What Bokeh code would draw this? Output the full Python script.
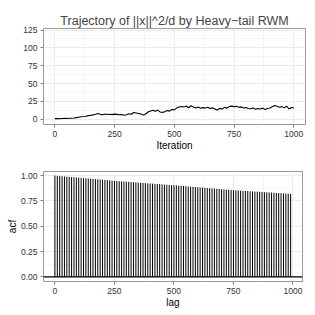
from bokeh.plotting import figure
from bokeh.layouts import column
from bokeh.models import FixedTicker, Range1d, Span
from bokeh.embed import file_html
from bokeh.resources import INLINE

# Trajectory of ||x||^2/d (sampled every 10 iterations)
iterations = list(range(0, 1001, 10))
traj = [1.0, 1.1, 0.9, 1.2, 1.3, 1.2, 1.5, 1.6, 1.8, 2.4,
        3.0, 3.6, 3.9, 4.3, 5.2, 5.6, 6.3, 7.1, 8.2, 7.0,
        6.4, 7.5, 6.8, 7.2, 6.6, 7.3, 7.0, 6.4, 6.9, 5.7,
        6.5, 7.8, 7.1, 9.6, 9.0, 8.2, 7.4, 6.2, 7.5, 10.3,
        11.8, 12.6, 11.2, 13.0, 10.4, 9.8, 10.6, 12.3, 11.5, 14.0,
        13.2, 16.0, 17.4, 18.1, 17.2, 18.6, 16.3, 19.0, 17.1, 16.0,
        17.3, 15.6, 16.4, 15.8, 16.9, 15.2, 16.1, 14.3, 13.0, 15.4,
        14.6, 16.8, 15.7, 17.9, 18.5, 17.8, 18.2, 16.9, 17.4, 15.8,
        16.6, 15.1, 14.8, 15.9, 14.2, 15.3, 14.6, 15.7, 13.8, 15.2,
        15.9, 17.6, 19.3, 18.2, 17.0, 17.8, 16.1, 18.4, 14.5, 16.7, 15.9]

# ACF values at lags 0, 10, ..., 990
lags = list(range(0, 1000, 10))
acf = [1.000, 0.997, 0.995, 0.993, 0.991, 0.989, 0.987, 0.985, 0.983, 0.981,
       0.979, 0.977, 0.975, 0.973, 0.971, 0.969, 0.967, 0.965, 0.963, 0.961,
       0.959, 0.957, 0.955, 0.952, 0.950, 0.948, 0.946, 0.944, 0.943, 0.941,
       0.939, 0.937, 0.936, 0.934, 0.932, 0.930, 0.929, 0.927, 0.925, 0.923,
       0.922, 0.920, 0.918, 0.917, 0.915, 0.913, 0.911, 0.910, 0.908, 0.906,
       0.905, 0.903, 0.901, 0.899, 0.897, 0.895, 0.893, 0.891, 0.889, 0.887,
       0.885, 0.883, 0.881, 0.879, 0.877, 0.875, 0.873, 0.871, 0.869, 0.867,
       0.865, 0.863, 0.861, 0.859, 0.858, 0.856, 0.854, 0.853, 0.851, 0.850,
       0.848, 0.847, 0.845, 0.844, 0.842, 0.841, 0.839, 0.838, 0.836, 0.835,
       0.833, 0.832, 0.830, 0.829, 0.827, 0.826, 0.824, 0.823, 0.821, 0.820]

x_ticks = [0, 250, 500, 750, 1000]
x_minor = [-125, 125, 375, 625, 875, 1125]
y1_ticks = [0, 25, 50, 75, 100, 125]
y1_minor = [12.5, 37.5, 62.5, 87.5, 112.5]
y2_ticks = [0.0, 0.25, 0.5, 0.75, 1.0]
y2_minor = [-0.125, 0.125, 0.375, 0.625, 0.875, 1.125]
y2_labels = {0.0: "0.00", 0.25: "0.25", 0.5: "0.50", 0.75: "0.75", 1.0: "1.00"}

FONT = "Liberation Sans"


def style(p):
    p.outline_line_color = "#999999"
    p.outline_line_width = 1
    p.background_fill_color = "white"
    p.border_fill_color = "white"
    for ax in (p.xaxis[0], p.yaxis[0]):
        ax.axis_line_color = None
        ax.major_tick_line_color = "#7f7f7f"
        ax.major_tick_out = 3
        ax.major_tick_in = 0
        ax.minor_tick_line_color = None
        ax.major_label_text_font = FONT
        ax.major_label_text_font_size = "8.5px"
        ax.major_label_text_color = "#333333"
        ax.axis_label_text_font = FONT
        ax.axis_label_text_font_size = "10px"
        ax.axis_label_text_font_style = "normal"
        ax.axis_label_text_color = "black"
        ax.major_label_standoff = 2
        ax.axis_label_standoff = 0
    for g in (p.xgrid[0], p.ygrid[0]):
        g.grid_line_color = "#ebebeb"
        g.minor_grid_line_color = "#f5f5f5"


# Top: trajectory
p1 = figure(frame_width=262, frame_height=96, output_backend="svg", toolbar_location=None,
            x_range=Range1d(-47.5, 1049), y_range=Range1d(-7.2, 127.1),
            min_border_left=41, min_border_right=12, min_border_top=28,
            min_border_bottom=37)
p1.title.text = "Trajectory of ||x||^2/d by Heavy\u2212tail RWM"
p1.title.align = "center"
p1.title.text_font = FONT
p1.title.text_font_size = "12.5px"
p1.title.text_font_style = "normal"
p1.title.standoff = 1
p1.line(iterations, traj, color="black", line_width=1.1)
p1.xaxis.ticker = FixedTicker(ticks=x_ticks, minor_ticks=x_minor)
p1.yaxis.ticker = FixedTicker(ticks=y1_ticks, minor_ticks=y1_minor)
p1.xaxis.axis_label = "Iteration"
style(p1)

# Bottom: ACF
p2 = figure(frame_width=259, frame_height=110, output_backend="svg", toolbar_location=None,
            x_range=Range1d(-48, 1040), y_range=Range1d(-0.045, 1.04),
            min_border_left=43, min_border_right=13, min_border_top=10,
            min_border_bottom=25)
p2.segment(x0=lags, y0=[0] * len(lags), x1=lags, y1=acf, color="black", line_width=1)
p2.add_layout(Span(location=0, dimension="width", line_color="black", line_width=1.2))
p2.xaxis.ticker = FixedTicker(ticks=x_ticks, minor_ticks=x_minor)
p2.yaxis.ticker = FixedTicker(ticks=y2_ticks, minor_ticks=y2_minor)
p2.yaxis.major_label_overrides = y2_labels
p2.xaxis.axis_label = "lag"
p2.yaxis.axis_label = "acf"
style(p2)

layout = column(p1, p2, spacing=0)
open("out.html", "w").write(file_html(layout, INLINE))
